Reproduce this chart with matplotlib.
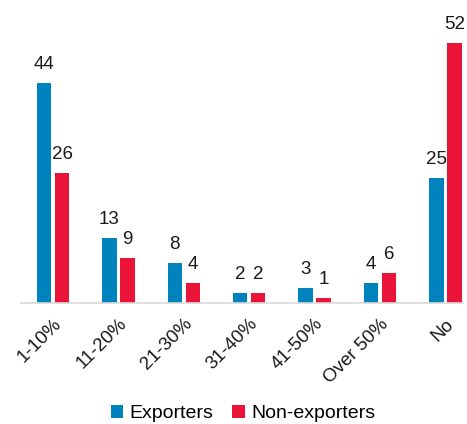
import numpy as np
import matplotlib
matplotlib.use("Agg")
import matplotlib.pyplot as plt

plt.rcParams['font.family'] = ['Liberation Sans', 'DejaVu Sans']

categories = ['1-10%', '11-20%', '21-30%', '31-40%', '41-50%', 'Over 50%', 'No']
exporters = [44, 13, 8, 2, 3, 4, 25]
non_exporters = [26, 9, 4, 2, 1, 6, 52]

blue = '#0083BD'
red = '#EA1438'

fig = plt.figure(figsize=(4.67, 4.24), dpi=100)
ax = fig.add_axes([21 / 467, 0.2854, 442 / 467, 0.691])

x = np.arange(len(categories))
w = 0.222
b1 = ax.bar(x - 0.138, exporters, w, color=blue, label='Exporters')
b2 = ax.bar(x + 0.138, non_exporters, w, color=red, label='Non-exporters')

# value labels above each bar
for bars, vals in ((b1, exporters), (b2, non_exporters)):
    for r, v in zip(bars, vals):
        ax.text(r.get_x() + r.get_width() / 2, v + 2.0, str(v),
                ha='center', va='bottom', fontsize=13.5, color='#1a1a1a')

ax.set_xlim(-0.49, 6.27)
ax.set_ylim(0, 58.6)
ax.set_yticks([])
ax.set_xticks(x)
ax.set_xticklabels(categories, rotation=45, ha='right', rotation_mode='anchor',
                   fontsize=13.5, color='#1a1a1a')
ax.tick_params(axis='x', length=0, pad=9)
for s in ('top', 'right', 'left'):
    ax.spines[s].set_visible(False)
ax.spines['bottom'].set_color('#d9d9d9')
ax.spines['bottom'].set_linewidth(1.2)

fig.legend(handles=[b1, b2], loc='center', bbox_to_anchor=(0.52, 0.025),
           ncol=2, frameon=False, fontsize=14, handlelength=0.65,
           handleheight=0.65, handletextpad=0.3, columnspacing=1.0)

fig.savefig('out.png', dpi=100)
